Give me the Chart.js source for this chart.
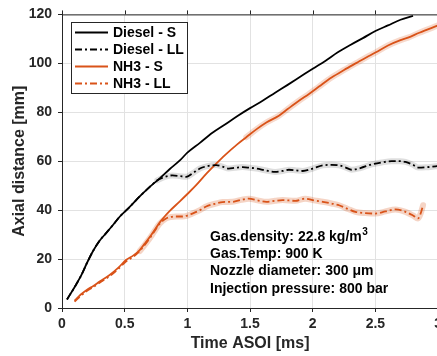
<!DOCTYPE html>
<html><head><meta charset="utf-8">
<script src="https://cdn.jsdelivr.net/npm/chart.js@4/dist/chart.umd.min.js"></script>
<style>html,body{margin:0;padding:0;overflow:hidden;background:#fff;width:437px;height:356px}canvas{display:block}</style>
</head><body>
<canvas id="c" width="446" height="356" style="width:446px;height:356px"></canvas>
<script>
// ---- data ----
const xTickValues = [0, 0.5, 1, 1.5, 2, 2.5, 3];
const xTickLabels = ['0', '0.5', '1', '1.5', '2', '2.5', '3'];
const yTickValues = [0, 20, 40, 60, 80, 100, 120];
const seriesNames = ['Diesel - S', 'Diesel - LL', 'NH3 - S', 'NH3 - LL'];
const annotationLines = ['Gas.density: 22.8 kg/m', 'Gas.Temp: 900 K', 'Nozzle diameter: 300 \u03bcm', 'Injection pressure: 800 bar'];

const dieselS_t = [0.04,0.10,0.15,0.20,0.25,0.30,0.35,0.40,0.46,0.54,0.62,0.70,0.78,0.86,0.94,1.00,1.10,1.20,1.30,1.40,1.50,1.60,1.70,1.80,1.90,2.00,2.10,2.20,2.30,2.40,2.50,2.60,2.70,2.80];
const dieselS_v = [3.5,8.5,13,18.5,23.5,27.5,30.5,33.5,37.3,41.3,45.6,49.5,53,56.8,60.3,63.5,67.5,71.6,75,78.5,81.7,84.7,88,91.2,94.5,97.8,101,104.5,107.5,110.3,113.2,115.5,117.8,119.4];

const dieselLL_t = [0.04,0.10,0.15,0.20,0.25,0.30,0.35,0.40,0.46,0.54,0.62,0.70,0.76,0.82,0.88,0.94,0.99,1.04,1.10,1.16,1.23,1.28,1.33,1.38,1.44,1.50,1.55,1.62,1.70,1.76,1.81,1.86,1.92,2.00,2.08,2.15,2.21,2.26,2.31,2.38,2.47,2.55,2.63,2.70,2.74,2.80,2.84,2.90,2.98,3.00];
const dieselLL_v = [3.5,8.5,13,18.5,23.5,27.5,30.5,33.5,37.3,41.3,45.6,49.5,52.2,53.6,54.2,53.9,53.6,55,57,58,58.4,57.8,57,57.3,57.6,57.3,57,56.3,55.6,56,56.5,56.3,56,57,58.3,58.5,58.3,57.5,56.5,57.2,58.7,59.5,60,60,59.7,58.5,57.4,57.5,57.9,58];

const nh3S_t = [0.10,0.15,0.20,0.25,0.30,0.38,0.45,0.51,0.57,0.62,0.66,0.70,0.74,0.78,0.82,0.86,0.94,1.00,1.07,1.15,1.23,1.30,1.40,1.47,1.55,1.63,1.73,1.80,1.89,1.97,2.05,2.15,2.25,2.35,2.43,2.50,2.60,2.70,2.76,2.85,3.00];
const nh3S_v = [3.0,5.5,7.5,9.0,10.8,13.5,16.5,19.6,21.5,23.7,26.3,29,32,35,37.5,39.7,43.6,46.6,50.2,54.8,59,62.5,67,69.8,73,75.8,78.6,81.3,84.7,87.5,90.5,94.2,97.3,100.2,102.5,104.4,107.3,109.5,110.5,112.5,115.5];

const nh3LL_t = [0.10,0.15,0.20,0.25,0.30,0.38,0.45,0.51,0.57,0.62,0.66,0.70,0.74,0.78,0.83,0.87,0.91,0.96,1.00,1.04,1.10,1.15,1.22,1.28,1.36,1.43,1.49,1.56,1.63,1.70,1.76,1.86,1.94,2.01,2.08,2.15,2.21,2.28,2.34,2.42,2.50,2.58,2.66,2.74,2.80,2.84,2.86,2.88];
const nh3LL_v = [2.6,5.0,7.0,8.6,10.3,13.0,16.0,19.0,21.0,23.3,25.8,28.5,31.6,34.5,36.6,37.2,37.4,37.4,37.8,38.6,40,41.5,42.6,43.3,43.4,44.2,44.7,44,43.4,43.8,44.1,43.8,44.7,44,43.4,42.7,42,40.5,39.3,38.8,38.6,39.5,40.3,39.3,37.8,36.6,38.5,42];

// ---- helpers ----
const zip = (t, v) => t.map((x, i) => ({x, y: v[i]}));
const from = (t, v, t0) => zip(t, v).filter(p => p.x >= t0);
const ORANGE = '#D95319';
const FONT = "'Liberation Sans', Arial, Helvetica, sans-serif";
const AX = '#262626';

const lineDS = (label, data, color, dash) => ({
  label, data, borderColor: color, borderWidth: 1.8, borderDash: dash || [],
  pointRadius: 0, fill: false, cubicInterpolationMode: 'monotone', order: 0
});
const bandDS = (data, color) => ({
  label: '_band', data, borderColor: color, borderWidth: 6, pointRadius: 0,
  fill: false, cubicInterpolationMode: 'monotone', order: 10, borderCapStyle: 'round'
});

const DASH = [7, 3, 2, 3];
const datasets = [
  lineDS(seriesNames[0], zip(dieselS_t, dieselS_v), '#000000'),
  lineDS(seriesNames[1], zip(dieselLL_t, dieselLL_v), '#000000', DASH),
  lineDS(seriesNames[2], zip(nh3S_t, nh3S_v), ORANGE),
  lineDS(seriesNames[3], zip(nh3LL_t, nh3LL_v), ORANGE, DASH),
  bandDS(from(dieselLL_t, dieselLL_v, 0.74), 'rgba(0,0,0,0.13)'),
  bandDS(from(nh3S_t, nh3S_v, 1.45), 'rgba(217,83,25,0.22)'),
  bandDS(from(nh3LL_t, nh3LL_v, 0.6), 'rgba(217,83,25,0.25)')
];

const overlay = {
  id: 'overlay',
  afterDraw(chart) {
    const ctx = chart.ctx, a = chart.chartArea, xs = chart.scales.x;
    ctx.save();
    ctx.strokeStyle = AX; ctx.lineWidth = 1;
    ctx.beginPath();
    ctx.moveTo(a.left, a.top + 0.5); ctx.lineTo(a.right, a.top + 0.5);
    ctx.moveTo(a.right - 0.5, a.top); ctx.lineTo(a.right - 0.5, a.bottom);
    xTickValues.forEach(v => { const px = Math.round(xs.getPixelForValue(v)) + 0.5; ctx.moveTo(px, a.top); ctx.lineTo(px, a.top - 4); });
    ctx.stroke();

    // legend
    const lx = 71, ly = 22, lw = 116, lh = 71;
    ctx.fillStyle = '#fff'; ctx.fillRect(lx, ly, lw, lh);
    ctx.strokeStyle = AX; ctx.lineWidth = 1;
    ctx.strokeRect(lx + 0.5, ly + 0.5, lw, lh);
    ctx.font = 'bold 14px ' + FONT; ctx.textBaseline = 'middle'; ctx.textAlign = 'left';
    for (let i = 0; i < 4; i++) {
      const ds = chart.data.datasets[i];
      const y = ly + 10.5 + i * 17;
      ctx.strokeStyle = ds.borderColor; ctx.lineWidth = 1.8; ctx.setLineDash(ds.borderDash);
      ctx.beginPath(); ctx.moveTo(75, y); ctx.lineTo(108, y); ctx.stroke();
      ctx.setLineDash([]);
      ctx.fillStyle = '#000'; ctx.fillText(ds.label, 113, y + 0.5);
    }

    // annotation
    ctx.fillStyle = '#000'; ctx.font = 'bold 14px ' + FONT;
    const ax = 210, ay = 237, step = 17.3;
    annotationLines.forEach((t, i) => {
      ctx.fillText(t, ax, ay + i * step);
      if (i === 0) {
        const w = ctx.measureText(t).width;
        ctx.font = 'bold 10px ' + FONT; ctx.fillText('3', ax + w + 0.5, ay - 5);
        ctx.font = 'bold 14px ' + FONT;
      }
    });
    ctx.restore();
  }
};

new Chart(document.getElementById('c'), {
  type: 'line',
  data: { datasets },
  options: {
    responsive: false, animation: false, devicePixelRatio: 1,
    layout: { padding: { top: 13, right: 0, bottom: 0, left: 0 } },
    plugins: { legend: { display: false }, tooltip: { enabled: false } },
    scales: {
      x: {
        type: 'linear', min: 0, max: 3,
        afterBuildTicks: s => { s.ticks = xTickValues.map(v => ({ value: v })); },
        afterFit: s => { s.height = 48; },
        grid: { color: '#e2e2e2', lineWidth: 1, tickColor: AX, tickLength: 4, drawTicks: true },
        border: { color: AX, width: 1 },
        ticks: { color: AX, font: { family: FONT, size: 14, weight: 'bold' }, padding: 4, maxRotation: 0, autoSkip: false,
                 callback: (v, i) => xTickLabels[xTickValues.indexOf(v)] },
        title: { display: true, text: 'Time ASOI [ms]', color: AX, font: { family: FONT, size: 16, weight: 'bold' }, padding: { top: 0, bottom: 3 } }
      },
      y: {
        type: 'linear', min: 0, max: 120,
        afterBuildTicks: s => { s.ticks = yTickValues.map(v => ({ value: v })); },
        afterFit: s => { s.width = 62; },
        grid: { color: '#e2e2e2', lineWidth: 1, tickColor: AX, tickLength: 4, drawTicks: true },
        border: { color: AX, width: 1 },
        ticks: { color: AX, font: { family: FONT, size: 14, weight: 'bold' }, padding: 6 },
        title: { display: true, text: 'Axial distance [mm]', color: AX, font: { family: FONT, size: 16, weight: 'bold' }, padding: { top: 10, bottom: 0 } }
      }
    }
  },
  plugins: [overlay]
});
</script>
</body></html>
